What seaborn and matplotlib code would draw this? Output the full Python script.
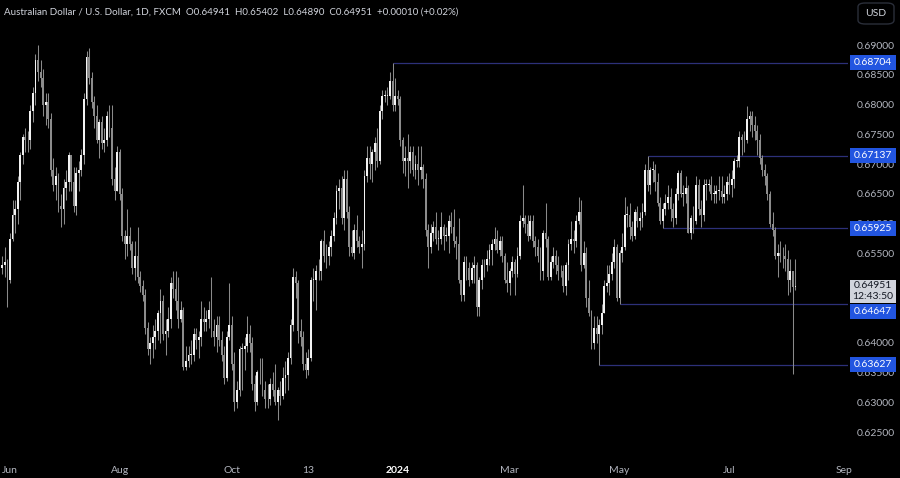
import numpy as np
import pandas as pd
import matplotlib
matplotlib.use("Agg")
import matplotlib.pyplot as plt
import matplotlib.transforms as mtransforms
from matplotlib.patches import Rectangle, FancyBboxPatch
import seaborn as sns


# daily AUD/USD candles, prices in pips (x 1e-4), first bar is 2023-05-29
first_open = 6525
closes = [
    6530, 6535, 6505, 6575, 6615, 6625, 6670, 6715, 6745, 6740,
    6740, 6790, 6820, 6875, 6855, 6845, 6800, 6805, 6775, 6690,
    6665, 6680, 6630, 6625, 6660, 6670, 6715, 6670, 6630, 6685,
    6690, 6715, 6810, 6880, 6845, 6805, 6780, 6740, 6770, 6735,
    6740, 6780, 6760, 6675, 6655, 6720, 6650, 6580, 6565, 6580,
    6565, 6525, 6545, 6510, 6495, 6480, 6425, 6390, 6400, 6410,
    6420, 6450, 6470, 6415, 6420, 6440, 6500, 6490, 6470, 6440,
    6455, 6360, 6370, 6380, 6380, 6415, 6405, 6410, 6440, 6435,
    6440, 6455, 6420, 6410, 6430, 6405, 6380, 6340, 6410, 6430,
    6365, 6300, 6320, 6390, 6390, 6395, 6415, 6400, 6330, 6300,
    6350, 6350, 6320, 6305, 6305, 6330, 6320, 6300, 6320, 6310,
    6340, 6345, 6375, 6430, 6510, 6500, 6420, 6410, 6365, 6355,
    6375, 6505, 6505, 6520, 6520, 6570, 6545, 6545, 6560, 6580,
    6610, 6655, 6660, 6610, 6675, 6620, 6560, 6550, 6590, 6570,
    6560, 6565, 6680, 6710, 6700, 6720, 6735, 6705, 6790, 6815,
    6815, 6815, 6840, 6800, 6815, 6810, 6740, 6705, 6710, 6705,
    6720, 6690, 6700, 6690, 6695, 6675, 6590, 6560, 6585, 6595,
    6575, 6575, 6595, 6580, 6580, 6605, 6595, 6570, 6565, 6505,
    6480, 6535, 6525, 6505, 6525, 6530, 6460, 6505, 6530, 6530,
    6540, 6555, 6565, 6575, 6555, 6570, 6545, 6505, 6500, 6520,
    6535, 6515, 6545, 6605, 6610, 6600, 6580, 6605, 6570, 6560,
    6545, 6520, 6585, 6575, 6510, 6535, 6545, 6530, 6520, 6520,
    6495, 6530, 6565, 6575, 6570, 6605, 6620, 6530, 6550, 6475,
    6450, 6400, 6425, 6415, 6430, 6450, 6495, 6500, 6515, 6535,
    6560, 6475, 6550, 6560, 6615, 6615, 6595, 6580, 6620, 6605,
    6610, 6620, 6690, 6665, 6690, 6690, 6670, 6635, 6605, 6625,
    6635, 6645, 6625, 6610, 6650, 6685, 6650, 6650, 6660, 6585,
    6610, 6605, 6665, 6625, 6615, 6665, 6665, 6665, 6650, 6650,
    6655, 6655, 6645, 6650, 6670, 6665, 6675, 6705, 6705, 6745,
    6740, 6740, 6775, 6780, 6765, 6755, 6740, 6710, 6690, 6680,
    6650, 6600, 6590, 6545, 6550, 6545, 6545, 6540, 6505, 6520,
    6494.1, 6495.1,
]
highs = [
    6545, 6560, 6540, 6585, 6640, 6640, 6680, 6720, 6750, 6760,
    6755, 6800, 6830, 6885, 6900, 6875, 6860, 6820, 6820, 6785,
    6710, 6695, 6685, 6650, 6675, 6690, 6720, 6715, 6695, 6695,
    6705, 6725, 6820, 6890, 6895, 6855, 6815, 6800, 6775, 6780,
    6760, 6790, 6800, 6800, 6695, 6730, 6725, 6660, 6590, 6625,
    6595, 6570, 6570, 6595, 6520, 6505, 6490, 6435, 6410, 6430,
    6440, 6455, 6490, 6480, 6440, 6460, 6510, 6520, 6520, 6510,
    6470, 6460, 6395, 6395, 6405, 6425, 6425, 6420, 6470, 6460,
    6455, 6470, 6510, 6440, 6445, 6445, 6420, 6395, 6420, 6500,
    6445, 6385, 6335, 6395, 6400, 6410, 6445, 6430, 6410, 6345,
    6355, 6375, 6375, 6335, 6330, 6340, 6350, 6365, 6325, 6335,
    6360, 6370, 6385, 6440, 6525, 6520, 6505, 6440, 6420, 6385,
    6390, 6510, 6525, 6530, 6540, 6575, 6590, 6565, 6570, 6590,
    6620, 6665, 6675, 6680, 6690, 6690, 6630, 6590, 6600, 6615,
    6580, 6590, 6690, 6730, 6730, 6725, 6745, 6760, 6800, 6825,
    6825, 6830, 6855, 6870, 6845, 6825, 6815, 6745, 6730, 6750,
    6730, 6730, 6715, 6730, 6730, 6700, 6685, 6600, 6600, 6605,
    6620, 6590, 6620, 6600, 6595, 6615, 6620, 6625, 6580, 6610,
    6505, 6545, 6545, 6535, 6535, 6545, 6535, 6510, 6540, 6540,
    6555, 6565, 6575, 6595, 6590, 6580, 6580, 6550, 6535, 6525,
    6545, 6540, 6560, 6615, 6665, 6615, 6615, 6615, 6615, 6580,
    6575, 6560, 6590, 6635, 6580, 6545, 6560, 6555, 6545, 6530,
    6530, 6535, 6575, 6605, 6590, 6615, 6645, 6640, 6570, 6560,
    6505, 6455, 6445, 6445, 6440, 6465, 6505, 6530, 6530, 6550,
    6575, 6565, 6555, 6585, 6645, 6630, 6635, 6605, 6625, 6630,
    6620, 6635, 6700, 6714, 6695, 6705, 6700, 6685, 6645, 6635,
    6650, 6665, 6660, 6635, 6660, 6690, 6690, 6665, 6680, 6665,
    6615, 6630, 6680, 6675, 6640, 6675, 6675, 6675, 6680, 6665,
    6665, 6680, 6680, 6665, 6680, 6685, 6690, 6710, 6715, 6755,
    6750, 6755, 6798, 6790, 6790, 6780, 6765, 6750, 6715, 6700,
    6685, 6655, 6620, 6595, 6565, 6570, 6560, 6565, 6555, 6540,
    6520, 6540.2,
]
lows = [
    6515, 6510, 6460, 6500, 6570, 6585, 6600, 6640, 6700, 6720,
    6720, 6725, 6770, 6800, 6840, 6830, 6780, 6765, 6760, 6680,
    6655, 6640, 6620, 6595, 6600, 6640, 6655, 6655, 6620, 6615,
    6655, 6680, 6700, 6800, 6835, 6795, 6760, 6735, 6710, 6725,
    6720, 6730, 6745, 6665, 6640, 6660, 6640, 6570, 6540, 6545,
    6555, 6515, 6505, 6500, 6485, 6470, 6415, 6380, 6365, 6375,
    6390, 6405, 6400, 6405, 6380, 6410, 6425, 6475, 6455, 6425,
    6435, 6355, 6355, 6360, 6365, 6370, 6390, 6375, 6395, 6420,
    6420, 6425, 6410, 6395, 6385, 6395, 6370, 6330, 6335, 6405,
    6355, 6285, 6290, 6310, 6320, 6355, 6385, 6385, 6320, 6285,
    6295, 6330, 6310, 6290, 6290, 6295, 6310, 6295, 6270, 6295,
    6305, 6315, 6320, 6365, 6420, 6475, 6400, 6395, 6355, 6340,
    6345, 6370, 6470, 6455, 6505, 6505, 6535, 6525, 6530, 6545,
    6570, 6600, 6625, 6600, 6590, 6610, 6545, 6545, 6540, 6560,
    6550, 6525, 6555, 6670, 6675, 6670, 6690, 6695, 6700, 6775,
    6805, 6800, 6810, 6790, 6790, 6800, 6730, 6685, 6680, 6660,
    6685, 6680, 6675, 6665, 6675, 6660, 6580, 6525, 6550, 6570,
    6565, 6555, 6565, 6555, 6570, 6550, 6585, 6560, 6540, 6500,
    6470, 6470, 6505, 6495, 6500, 6500, 6445, 6445, 6490, 6510,
    6520, 6530, 6530, 6555, 6550, 6545, 6535, 6500, 6485, 6480,
    6510, 6480, 6510, 6540, 6595, 6585, 6570, 6575, 6560, 6545,
    6535, 6505, 6505, 6560, 6505, 6505, 6525, 6515, 6505, 6510,
    6485, 6480, 6505, 6555, 6550, 6560, 6600, 6520, 6525, 6460,
    6445, 6390, 6390, 6400, 6362.7, 6415, 6450, 6485, 6480, 6505,
    6525, 6470, 6464.7, 6535, 6555, 6595, 6575, 6570, 6575, 6595,
    6590, 6595, 6615, 6655, 6650, 6670, 6655, 6630, 6600, 6592.5,
    6615, 6625, 6605, 6595, 6600, 6640, 6645, 6630, 6635, 6585,
    6575, 6585, 6600, 6615, 6595, 6605, 6640, 6655, 6640, 6635,
    6635, 6640, 6635, 6635, 6640, 6650, 6645, 6660, 6695, 6695,
    6715, 6720, 6735, 6755, 6745, 6740, 6715, 6700, 6680, 6665,
    6640, 6595, 6580, 6540, 6510, 6535, 6525, 6520, 6480, 6485,
    6348, 6489.0,
]

level_prices = [0.68704, 0.67137, 0.65925, 0.64647, 0.63627]
level_start_dates = ["2023-12-28", "2024-05-16", "2024-05-24", "2024-05-01", "2024-04-19"]
tick_labels = ["Jun", "Aug", "Oct", "13", "2024", "Mar", "May", "Jul", "Sep"]
tick_dates = ["2023-06-01", "2023-08-01", "2023-10-02", "2023-11-13", "2024-01-01",
              "2024-03-01", "2024-05-01", "2024-07-01", "2024-09-02"]
# axis prices that stay visible (0.645 and 0.650 sit under the price badges)
axis_prices = [0.625, 0.630, 0.635, 0.640, 0.655, 0.660, 0.665, 0.670, 0.675, 0.680, 0.685, 0.690]
last_price = "0.64951"
countdown = "12:43:50"
title = ("Australian Dollar / U.S. Dollar, 1D, FXCM  O0.64941  H0.65402  "
         "L0.64890  C0.64951  +0.00010 (+0.02%)")


days = pd.bdate_range("2023-05-29", "2024-09-30")
df = pd.DataFrame({
    "close": np.array(closes) / 1e4,
    "high": np.array(highs) / 1e4,
    "low": np.array(lows) / 1e4,
})
df["open"] = df["close"].shift(1).fillna(first_open / 1e4)
df.loc[len(df) - 1, "open"] = 0.64941
df["high"] = df[["high", "open", "close"]].max(axis=1)
df["low"] = df[["low", "open", "close"]].min(axis=1)
df["x"] = np.arange(len(df))
up = df["close"] >= df["open"]

tick_pos = [days.get_loc(pd.Timestamp(d)) for d in tick_dates]
level_starts = [days.get_loc(pd.Timestamp(d)) for d in level_start_dates]

sns.set_theme(style="dark", rc={"axes.facecolor": "black", "figure.facecolor": "black"})
plt.rcParams["font.family"] = ["Lato", "DejaVu Sans"]

fig = plt.figure(figsize=(9, 4.78), dpi=100)
ax = fig.add_axes([0, 23 / 478, 848 / 900, 455 / 478])
ax.set_facecolor("black")

ax.vlines(df["x"], df["low"], df["high"], color="#8a8a8a", lw=0.75, zorder=2)
body = (df["close"] - df["open"]).abs().clip(lower=0.00012)
base = df[["open", "close"]].min(axis=1)
ax.bar(df["x"][up], body[up], bottom=base[up], width=0.72, color="#f2f2f2", lw=0, zorder=3)
ax.bar(df["x"][~up], body[~up], bottom=base[~up], width=0.72, color="#8c8c8c", lw=0, zorder=3)

xmax = 331.6
for p, s in zip(level_prices, level_starts):
    ax.hlines(p, s, xmax, color="#2d3079", lw=0.9, zorder=1)

ax.set_xlim(-0.92, xmax)
ax.set_ylim(0.62114, 0.69756)
for sp in ax.spines.values():
    sp.set_visible(False)
ax.grid(False)

ax.yaxis.tick_right()
ax.set_yticks(axis_prices, [f"{v:.5f}" for v in axis_prices])
ax.tick_params(axis="y", length=0, pad=6, labelsize=7.5, colors="#b2b5be")
ax.set_xticks(tick_pos, tick_labels)
ax.tick_params(axis="x", length=0, pad=8, labelsize=7.5, colors="#b2b5be")
for t in ax.get_xticklabels():
    if t.get_text() == "2024":
        t.set_fontweight("bold")
        t.set_color("white")

# price badges on the right axis
trans = mtransforms.blended_transform_factory(ax.transAxes, ax.transData)
px = 1 / 5954
label_y = [0.68704, 0.67137, 0.65925, 0.64532, 0.63627]
for p, y in zip(level_prices, label_y):
    ax.add_patch(Rectangle((850 / 848, y - 7.5 * px), 46 / 848, 15 * px, transform=trans,
                           facecolor="#2255e0", edgecolor="none", clip_on=False, zorder=10))
    ax.text(873 / 848, y, f"{p:.5f}", transform=trans, ha="center", va="center",
            fontsize=7.5, color="white", clip_on=False, zorder=11)

cy = 0.64868
ax.add_patch(Rectangle((850 / 848, cy - 11.5 * px), 46 / 848, 23 * px, transform=trans,
                       facecolor="#d1d4dc", edgecolor="none", clip_on=False, zorder=10))
ax.text(873 / 848, cy + 5.5 * px, last_price, transform=trans, ha="center", va="center",
        fontsize=7.5, color="#131722", clip_on=False, zorder=11)
ax.text(873 / 848, cy - 5.5 * px, countdown, transform=trans, ha="center", va="center",
        fontsize=7.5, color="#131722", clip_on=False, zorder=11)

fig.text(4 / 900, 1 - 12 / 478, title, fontsize=7.0, color="#d1d4dc", va="center", ha="left")

fig.patches.append(FancyBboxPatch((858 / 900, 1 - 24 / 478), 36 / 900, 21 / 478,
                                  boxstyle="round,pad=0,rounding_size=0.008",
                                  transform=fig.transFigure, facecolor="black",
                                  edgecolor="#2a2e39", lw=1))
fig.text(876 / 900, 1 - 13.5 / 478, "USD", fontsize=7.5, color="#d1d4dc", ha="center", va="center")

fig.savefig("out.png", dpi=100, facecolor="black")
plt.close(fig)
